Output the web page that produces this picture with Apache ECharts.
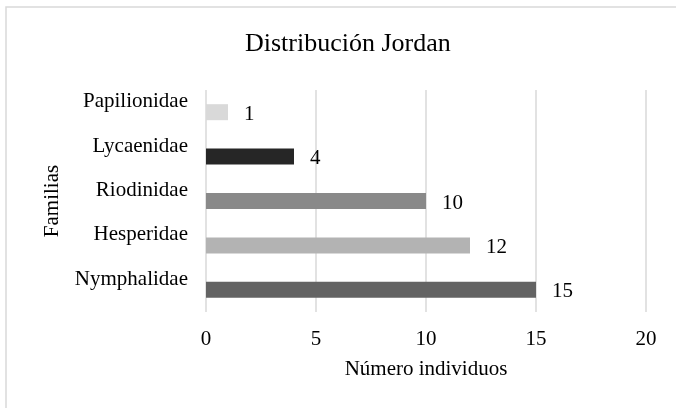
<!DOCTYPE html>
<html>
<head>
<meta charset="utf-8">
<script src="https://cdn.jsdelivr.net/npm/echarts@6/dist/echarts.min.js"></script>
<style>
html, body { margin: 0; padding: 0; background: #fff; }
#ec1 { width: 676px; height: 408px; }
</style>
</head>
<body>
<div id="ec1"></div>
<script>
// familias, de abajo hacia arriba
var familias = ['Nymphalidae', 'Hesperidae', 'Riodinidae', 'Lycaenidae', 'Papilionidae'];
var individuos = [15, 12, 10, 4, 1];
var colores = ['#636363', '#b3b3b3', '#898989', '#262626', '#d9d9d9'];
var xTicks = [0, 5, 10, 15, 20];

function distribucion(){
	var myCharts = echarts.init(document.getElementById('ec1'));
	var fuente = '"Liberation Serif", "Times New Roman", serif';
	var barras = [];
	for (var i = 0; i < individuos.length; i++) {
		barras.push({value: individuos[i], itemStyle: {color: colores[i]}});
	}
	var option = {
		animation: false,
		backgroundColor: '#fff',
		graphic: [
			{
				type: 'rect',
				shape: {x: 6, y: 7, width: 720, height: 440},
				style: {fill: 'none', stroke: '#d9d9d9', lineWidth: 1.5},
				silent: true
			}
		],
		title: {
			text: 'Distribución Jordan',
			left: 245,
			top: 31,
			padding: 0,
			textStyle: {
				fontFamily: fuente,
				fontSize: 26,
				fontWeight: 'normal',
				color: '#000'
			}
		},
		grid: {
			left: 206,
			right: 30,
			top: 90,
			bottom: 96
		},
		xAxis: {
			type: 'value',
			min: xTicks[0],
			max: xTicks[xTicks.length - 1],
			interval: xTicks[1] - xTicks[0],
			name: 'Número individuos',
			nameLocation: 'middle',
			nameGap: 47,
			nameTextStyle: {fontFamily: fuente, fontSize: 21, color: '#000'},
			axisLine: {show: false},
			axisTick: {show: false},
			axisLabel: {margin: 17, fontFamily: fuente, fontSize: 21, color: '#000'},
			splitLine: {show: true, lineStyle: {color: '#d9d9d9', width: 1.5}}
		},
		yAxis: {
			type: 'category',
			data: familias,
			name: 'Familias',
			nameLocation: 'middle',
			nameRotate: 90,
			nameGap: 143,
			nameTextStyle: {fontFamily: fuente, fontSize: 21, color: '#000'},
			axisLine: {show: false},
			axisTick: {show: false},
			axisLabel: {
				margin: 18,
				fontFamily: fuente,
				fontSize: 21,
				color: '#000',
				verticalAlign: 'bottom'
			},
			splitLine: {show: false}
		},
		series: [
			{
				type: 'bar',
				barWidth: 16,
				data: barras,
				label: {
					show: true,
					position: 'right',
					distance: 16,
					offset: [0, 2],
					fontFamily: fuente,
					fontSize: 21,
					color: '#000'
				}
			}
		]
	};
	myCharts.setOption(option);
}

distribucion();
</script>
</body>
</html>
